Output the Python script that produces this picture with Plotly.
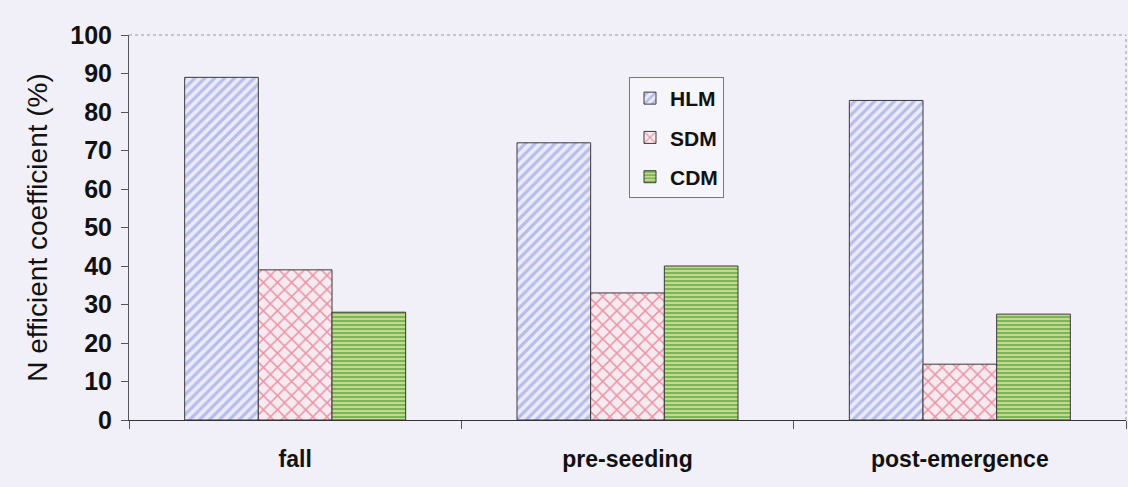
import plotly.graph_objects as go

# Data
stages = ["fall", "pre-seeding", "post-emergence"]
hlm = [89, 72, 83]
sdm = [39, 33, 14.5]
cdm = [28, 40, 27.5]

series = [
    ("HLM", hlm, dict(shape="/", fgcolor="#7d8fdc", bgcolor="#eceaf9", size=7, solidity=0.45)),
    ("SDM", sdm, dict(shape="x", fgcolor="#e23e5e", bgcolor="#f6eaf1", size=10, solidity=0.28)),
    ("CDM", cdm, dict(shape="-", fgcolor="#0f8f18", bgcolor="#dede9a", size=4, solidity=0.6)),
]

fig = go.Figure()

for name, vals, pat in series:
    fig.add_trace(go.Bar(
        x=stages,
        y=vals,
        name=name,
        legendgroup=name,
        marker=dict(
            color=pat["bgcolor"],
            pattern=pat,
            line=dict(color="#3a3a3a", width=1),
        ),
    ))

bg = "#f1eff7"
font_family = "Arial, Liberation Sans, sans-serif"

fig.update_layout(
    width=1128,
    height=487,
    barmode="group",
    bargap=0.335,
    bargroupgap=0,
    paper_bgcolor=bg,
    plot_bgcolor=bg,
    margin=dict(l=129, r=2, t=35, b=67),
    font=dict(family=font_family, color="#111111"),
    showlegend=True,
    legend=dict(
        x=0.5015, y=0.891, xanchor="left", yanchor="top",
        bgcolor="#f6f5fb",
        bordercolor="#777777", borderwidth=1,
        font=dict(size=21, color="#111111", family=font_family, weight="bold"),
        tracegroupgap=9,
        itemwidth=30,
    ),
)

fig.update_xaxes(
    showline=True, linecolor="#333333", linewidth=1,
    ticks="outside", tickson="boundaries", ticklen=8, tickcolor="#555555",
    tickfont=dict(size=23, weight="bold"),
    ticklabelstandoff=18,
    showgrid=False,
)

fig.update_yaxes(
    range=[0, 100], dtick=10,
    showline=True, linecolor="#555555", linewidth=1,
    ticks="outside", ticklen=7, tickcolor="#555555",
    tickfont=dict(size=25, weight="bold"),
    ticklabelstandoff=4,
    showgrid=False, zeroline=False,
    title=dict(text="N efficient coefficient (%)", font=dict(size=28), standoff=14),
)

# top and right frame lines (dashed grey in the reference)
fig.add_shape(type="line", xref="paper", yref="paper", x0=0, x1=1, y0=1, y1=1,
              line=dict(color="#999999", width=1, dash="dot"))
fig.add_shape(type="line", xref="paper", yref="paper", x0=1, x1=1, y0=0, y1=1,
              line=dict(color="#999999", width=1, dash="dot"))

fig.write_html(
    "out.html",
    config={"displayModeBar": False},
    post_script="document.body.style.margin='0';document.body.style.background='%s';" % bg,
)
